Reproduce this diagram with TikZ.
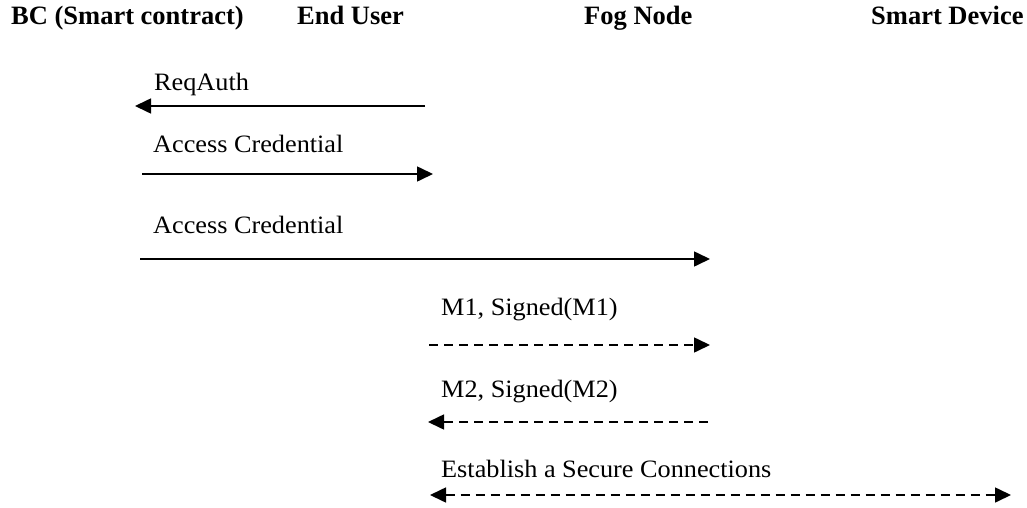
\documentclass[tikz,border=0pt]{standalone}
\usepackage{fontspec}
\setmainfont{Liberation Serif}
\newfontfamily\headfont{Liberation Serif}
\newfontfamily\bodyfont{Liberation Serif}[FakeStretch=1.05]
\usetikzlibrary{arrows.meta}
\tikzset{
  head/.style={anchor=base west, inner sep=0pt, font=\headfont\fontsize{26.5}{30}\selectfont\bfseries},
  lbl/.style={anchor=base west, inner sep=0pt, font=\bodyfont\fontsize{25}{29}\selectfont},
  msg/.style={line width=1.6pt, -{Triangle[length=16pt,width=15pt]}},
  dmsg/.style={msg, dash pattern=on 9pt off 6pt},
  bmsg/.style={line width=1.6pt, dash pattern=on 9pt off 6pt, {Triangle[length=16pt,width=15pt]}-{Triangle[length=16pt,width=15pt]}}
}
\begin{document}
\begin{tikzpicture}[x=1pt,y=-1pt]
\useasboundingbox (0,0) rectangle (1027,508);
% headers
\node[head] (bc) at (11,25) {BC (Smart contract)};
\node[head] (eu) at (297,25) {End User};
\node[head] (fog) at (584,25) {Fog Node};
\node[head] (sd) at (871,25) {Smart Device};
% labels
\node[lbl] (l1) at (154,91) {ReqAuth};
\node[lbl] (l2) at (153,152) {Access Credential};
\node[lbl] (l3) at (153,233) {Access Credential};
\node[lbl] (l4) at (441,315) {M1, Signed(M1)};
\node[lbl] (l5) at (441,397) {M2, Signed(M2)};
\node[lbl] (l6) at (441,477) {Establish a Secure Connections};
% arrow endpoints
\coordinate (a1s) at (425,106); \coordinate (a1e) at (135,106);
\coordinate (a2s) at (142,174); \coordinate (a2e) at (433,174);
\coordinate (a3s) at (140,259); \coordinate (a3e) at (710,259);
\coordinate (a4s) at (429,345); \coordinate (a4e) at (710,345);
\coordinate (a5s) at (708,422); \coordinate (a5e) at (428,422);
\coordinate (a6s) at (430,495); \coordinate (a6e) at (1011,495);
% arrows
\draw[msg] (a1s) -- (a1e);
\draw[msg] (a2s) -- (a2e);
\draw[msg] (a3s) -- (a3e);
\draw[dmsg] (a4s) -- (a4e);
\draw[dmsg] (a5s) -- (a5e);
\draw[bmsg] (a6s) -- (a6e);
\end{tikzpicture}
\end{document}
